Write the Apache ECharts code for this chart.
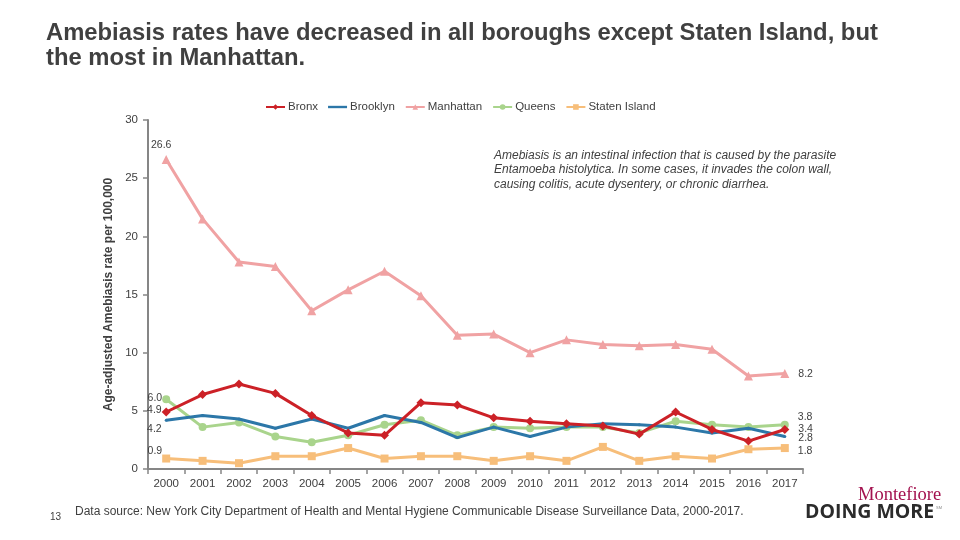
<!DOCTYPE html>
<html>
<head>
<meta charset="utf-8">
<script src="https://cdn.jsdelivr.net/npm/echarts@6/dist/echarts.min.js"></script>
<style>html,body{margin:0;padding:0;background:#fff}#c{width:960px;height:540px}</style>
</head>
<body>
<div id="c"></div>
<script>
const years = ['2000','2001','2002','2003','2004','2005','2006','2007','2008','2009','2010','2011','2012','2013','2014','2015','2016','2017'];
const bronx     = [4.9, 6.4, 7.3, 6.5, 4.6, 3.1, 2.9, 5.7, 5.5, 4.4, 4.1, 3.9, 3.7, 3.0, 4.9, 3.4, 2.4, 3.4];
const brooklyn  = [4.2, 4.6, 4.3, 3.5, 4.3, 3.5, 4.6, 4.0, 2.7, 3.6, 2.8, 3.6, 3.9, 3.8, 3.6, 3.1, 3.5, 2.8];
const manhattan = [26.6, 21.5, 17.8, 17.4, 13.6, 15.4, 17.0, 14.9, 11.5, 11.6, 10.0, 11.1, 10.7, 10.6, 10.7, 10.3, 8.0, 8.2];
const queens    = [6.0, 3.6, 4.0, 2.8, 2.3, 2.9, 3.8, 4.2, 2.9, 3.6, 3.5, 3.6, 3.6, 3.1, 4.1, 3.8, 3.6, 3.8];
const staten    = [0.9, 0.7, 0.5, 1.1, 1.1, 1.8, 0.9, 1.1, 1.1, 0.7, 1.1, 0.7, 1.9, 0.7, 1.1, 0.9, 1.7, 1.8];
const yTicks = [0, 5, 10, 15, 20, 25, 30];

const FONT = '"Liberation Sans", Arial, sans-serif';
const TXT = '#404040';

function mkData(vals, startLbl, endLbl) {
  return vals.map((v, i) => {
    if (i === 0) return {value: v, label: Object.assign({show: true, formatter: p => p.value.toFixed(1)}, startLbl)};
    if (i === vals.length - 1) return {value: v, label: Object.assign({show: true, formatter: p => p.value.toFixed(1)}, endLbl)};
    return v;
  });
}

function mkSeries(name, vals, color, symbol, size, startLbl, endLbl, z) {
  return {
    name, type: 'line', data: mkData(vals, startLbl, endLbl),
    symbol, symbolSize: size, z: z,
    lineStyle: {color, width: 3},
    itemStyle: {color},
    label: {show: false, color: TXT, fontFamily: FONT, fontSize: 10.5},
    emphasis: {disabled: true},
    animation: false
  };
}

const chart = echarts.init(document.getElementById('c'));
chart.setOption({
  animation: false,
  textStyle: {fontFamily: FONT},
  grid: {left: 148, right: 157, top: 120, bottom: 71},
  legend: {
    top: 96, left: 260, itemWidth: 19, itemHeight: 7, itemGap: 10,
    textStyle: {fontFamily: FONT, fontSize: 11.5, color: TXT, padding: [0, 0, 0, -2]},
    data: ['Bronx', {name: 'Brooklyn', icon: 'path://M0,0 H24 V3 H0 Z'}, 'Manhattan', 'Queens', 'Staten Island']
  },
  xAxis: {
    type: 'category', data: years, boundaryGap: true,
    axisLine: {lineStyle: {color: '#868686', width: 2}},
    axisTick: {show: true, interval: 0, length: 5, lineStyle: {color: '#868686', width: 1.5}},
    axisLabel: {fontFamily: FONT, fontSize: 11.5, color: TXT, margin: 9, interval: 0}
  },
  yAxis: {
    type: 'value', min: yTicks[0], max: yTicks[yTicks.length - 1], interval: 5,
    name: 'Age-adjusted Amebiasis rate per 100,000',
    nameLocation: 'middle', nameGap: 30,
    nameTextStyle: {fontFamily: FONT, fontSize: 12, fontWeight: 'bold', color: TXT},
    axisLine: {show: true, lineStyle: {color: '#868686', width: 2}},
    axisTick: {show: true, length: 5, lineStyle: {color: '#868686', width: 1.5}},
    axisLabel: {fontFamily: FONT, fontSize: 11.5, color: TXT, margin: 10},
    splitLine: {show: false}
  },
  series: [
    mkSeries('Staten Island', staten, '#f7be7a', 'rect', 8, {position: 'left', distance: 0, offset: [0, -7]}, {position: 'right', distance: 9, offset: [0, 3]}, 2),
    mkSeries('Queens', queens, '#a9d48c', 'circle', 8, {position: 'left', distance: 0, offset: [0, -1]}, {position: 'right', distance: 9, offset: [0, -8]}, 3),
    mkSeries('Brooklyn', brooklyn, '#2c77a8', 'circle', 3, {position: 'left', distance: 3, offset: [0, 9]}, {position: 'right', distance: 12, offset: [0, 2]}, 4),
    mkSeries('Bronx', bronx, '#cc2127', 'diamond', 9, {position: 'left', distance: 0, offset: [0, -2]}, {position: 'right', distance: 9, offset: [0, 0]}, 5),
    mkSeries('Manhattan', manhattan, '#f0a2a3', 'triangle', 9, {position: 'top', distance: 4, offset: [-5, 0]}, {position: 'right', distance: 9, offset: [0, 1]}, 6)
  ],
  graphic: [
    {type: 'text', left: 46, top: 21, style: {text: 'Amebiasis rates have decreased in all boroughs except Staten Island, but\nthe most in Manhattan.', fill: TXT, font: 'bold 23.8px "Liberation Sans", Arial, sans-serif', lineHeight: 25}},
    {type: 'text', left: 494, top: 148, style: {text: 'Amebiasis is an intestinal infection that is caused by the parasite\nEntamoeba histolytica. In some cases, it invades the colon wall,\ncausing colitis, acute dysentery, or chronic diarrhea.', fill: TXT, font: 'italic 12px "Liberation Sans", Arial, sans-serif', lineHeight: 14.5}},
    {type: 'text', left: 50, top: 512, style: {text: '13', fill: TXT, font: '10px "Liberation Sans", Arial, sans-serif'}},
    {type: 'text', left: 75, top: 506, style: {text: 'Data source: New York City Department of Health and Mental Hygiene Communicable Disease Surveillance Data, 2000-2017.', fill: TXT, font: '12px "Liberation Sans", Arial, sans-serif'}},
    {type: 'text', left: 858, top: 486, style: {text: 'Montefiore', fill: '#a3124f', font: '18.5px "Liberation Serif", "DejaVu Serif", serif'}},
    {type: 'text', left: 805, top: 502, style: {text: 'DOING MORE', fill: '#2b2b2b', font: 'bold 19.5px "Open Sans", "DejaVu Sans", sans-serif'}},
    {type: 'text', left: 936, top: 506, style: {text: 'SM', fill: '#888', font: '4px "Liberation Sans", sans-serif'}}
  ]
});
</script>
</body>
</html>
